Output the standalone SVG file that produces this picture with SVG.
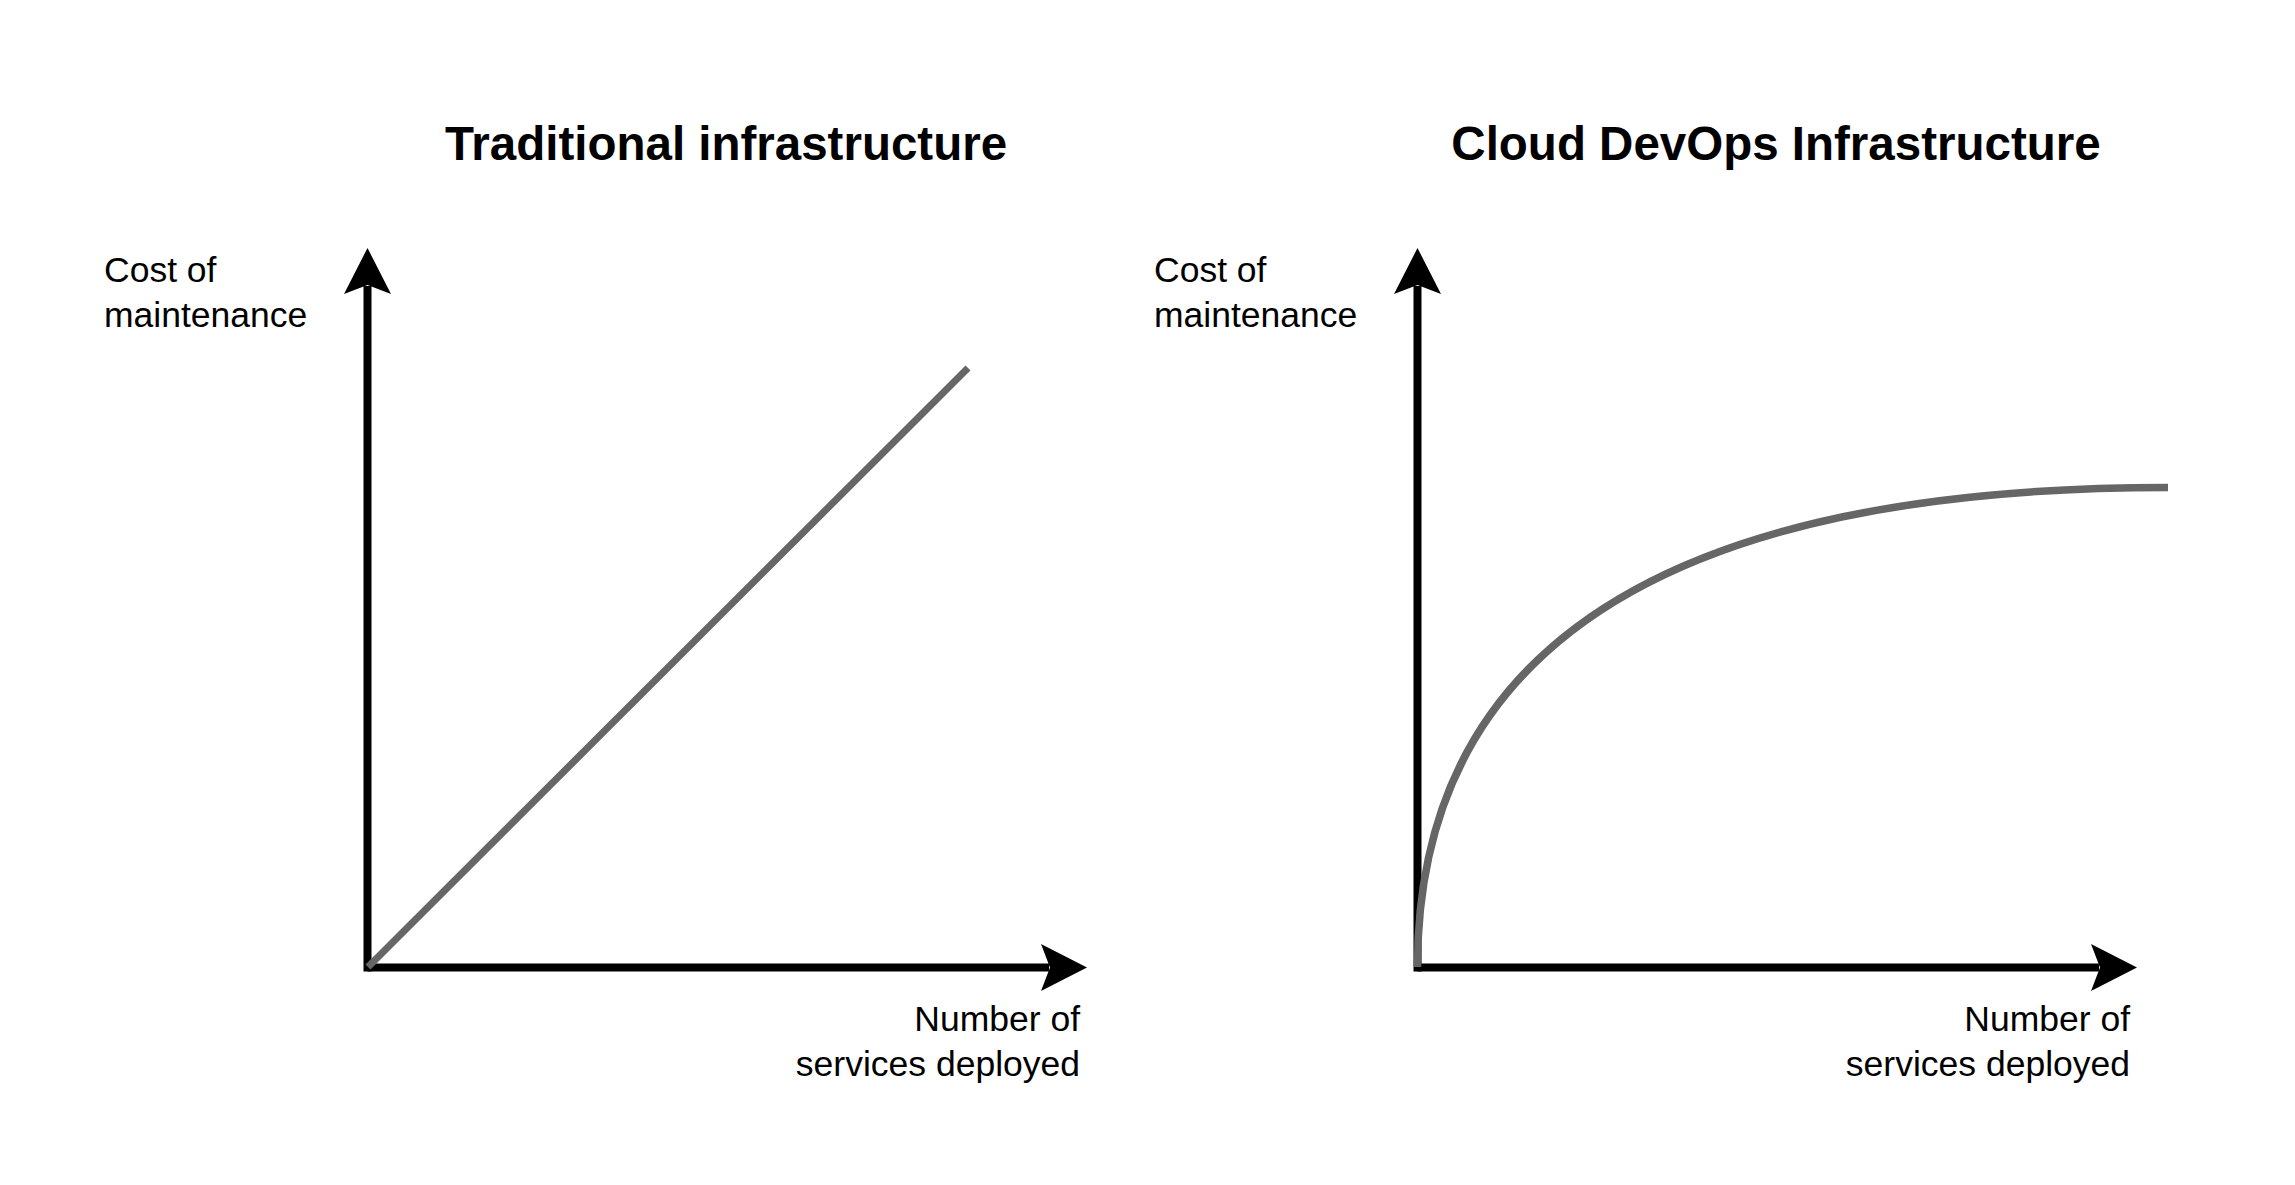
<svg xmlns="http://www.w3.org/2000/svg" width="2295" height="1185" viewBox="0 0 2295 1185">
  <defs>
    <style>
      .title { font-family: "Liberation Sans", Arial, sans-serif; font-weight: bold; font-size: 47.5px; fill: #000; text-anchor: middle; }
      .label { font-family: "Liberation Sans", Arial, sans-serif; font-size: 35.5px; fill: #000; }
      .end { text-anchor: end; }
      .axis { stroke: #000; stroke-width: 8; fill: none; }
      .head { fill: #000; stroke: none; }
      .trend { stroke: #666666; fill: none; stroke-linejoin: round; }
    </style>
  </defs>
  <rect x="0" y="0" width="2295" height="1185" fill="#ffffff"/>

  <g id="chart-traditional">
    <text class="title" x="726" y="160">Traditional infrastructure</text>
    <text class="label" x="104" y="282">Cost of</text>
    <text class="label" x="104" y="327">maintenance</text>
    <text class="label end" x="1080" y="1031">Number of</text>
    <text class="label end" x="1080" y="1076">services deployed</text>
    <g class="axes">
      <line class="axis" x1="367.5" y1="971.5" x2="367.5" y2="286"/>
      <polygon class="head" points="367.5,248 391,294 367.5,285 344,294"/>
      <line class="axis" x1="367.5" y1="967.5" x2="1049" y2="967.5"/>
      <polygon class="head" points="1087,967.5 1041,991 1050,967.5 1041,944"/>
    </g>
    <line class="trend" stroke-width="7" x1="368" y1="967" x2="968" y2="368"/>
  </g>

  <g id="chart-cloud">
    <text class="title" x="1776" y="160">Cloud DevOps Infrastructure</text>
    <text class="label" x="1154" y="282">Cost of</text>
    <text class="label" x="1154" y="327">maintenance</text>
    <text class="label end" x="2130" y="1031">Number of</text>
    <text class="label end" x="2130" y="1076">services deployed</text>
    <g class="axes">
      <line class="axis" x1="1417.5" y1="971.5" x2="1417.5" y2="286"/>
      <polygon class="head" points="1417.5,248 1441,294 1417.5,285 1394,294"/>
      <line class="axis" x1="1417.5" y1="967.5" x2="2099" y2="967.5"/>
      <polygon class="head" points="2137,967.5 2091,991 2100,967.5 2091,944"/>
    </g>
    <path class="trend" stroke-width="7.5" d="M1417.5,967 Q1417.5,487.5 2168,487.5"/>
  </g>
</svg>
